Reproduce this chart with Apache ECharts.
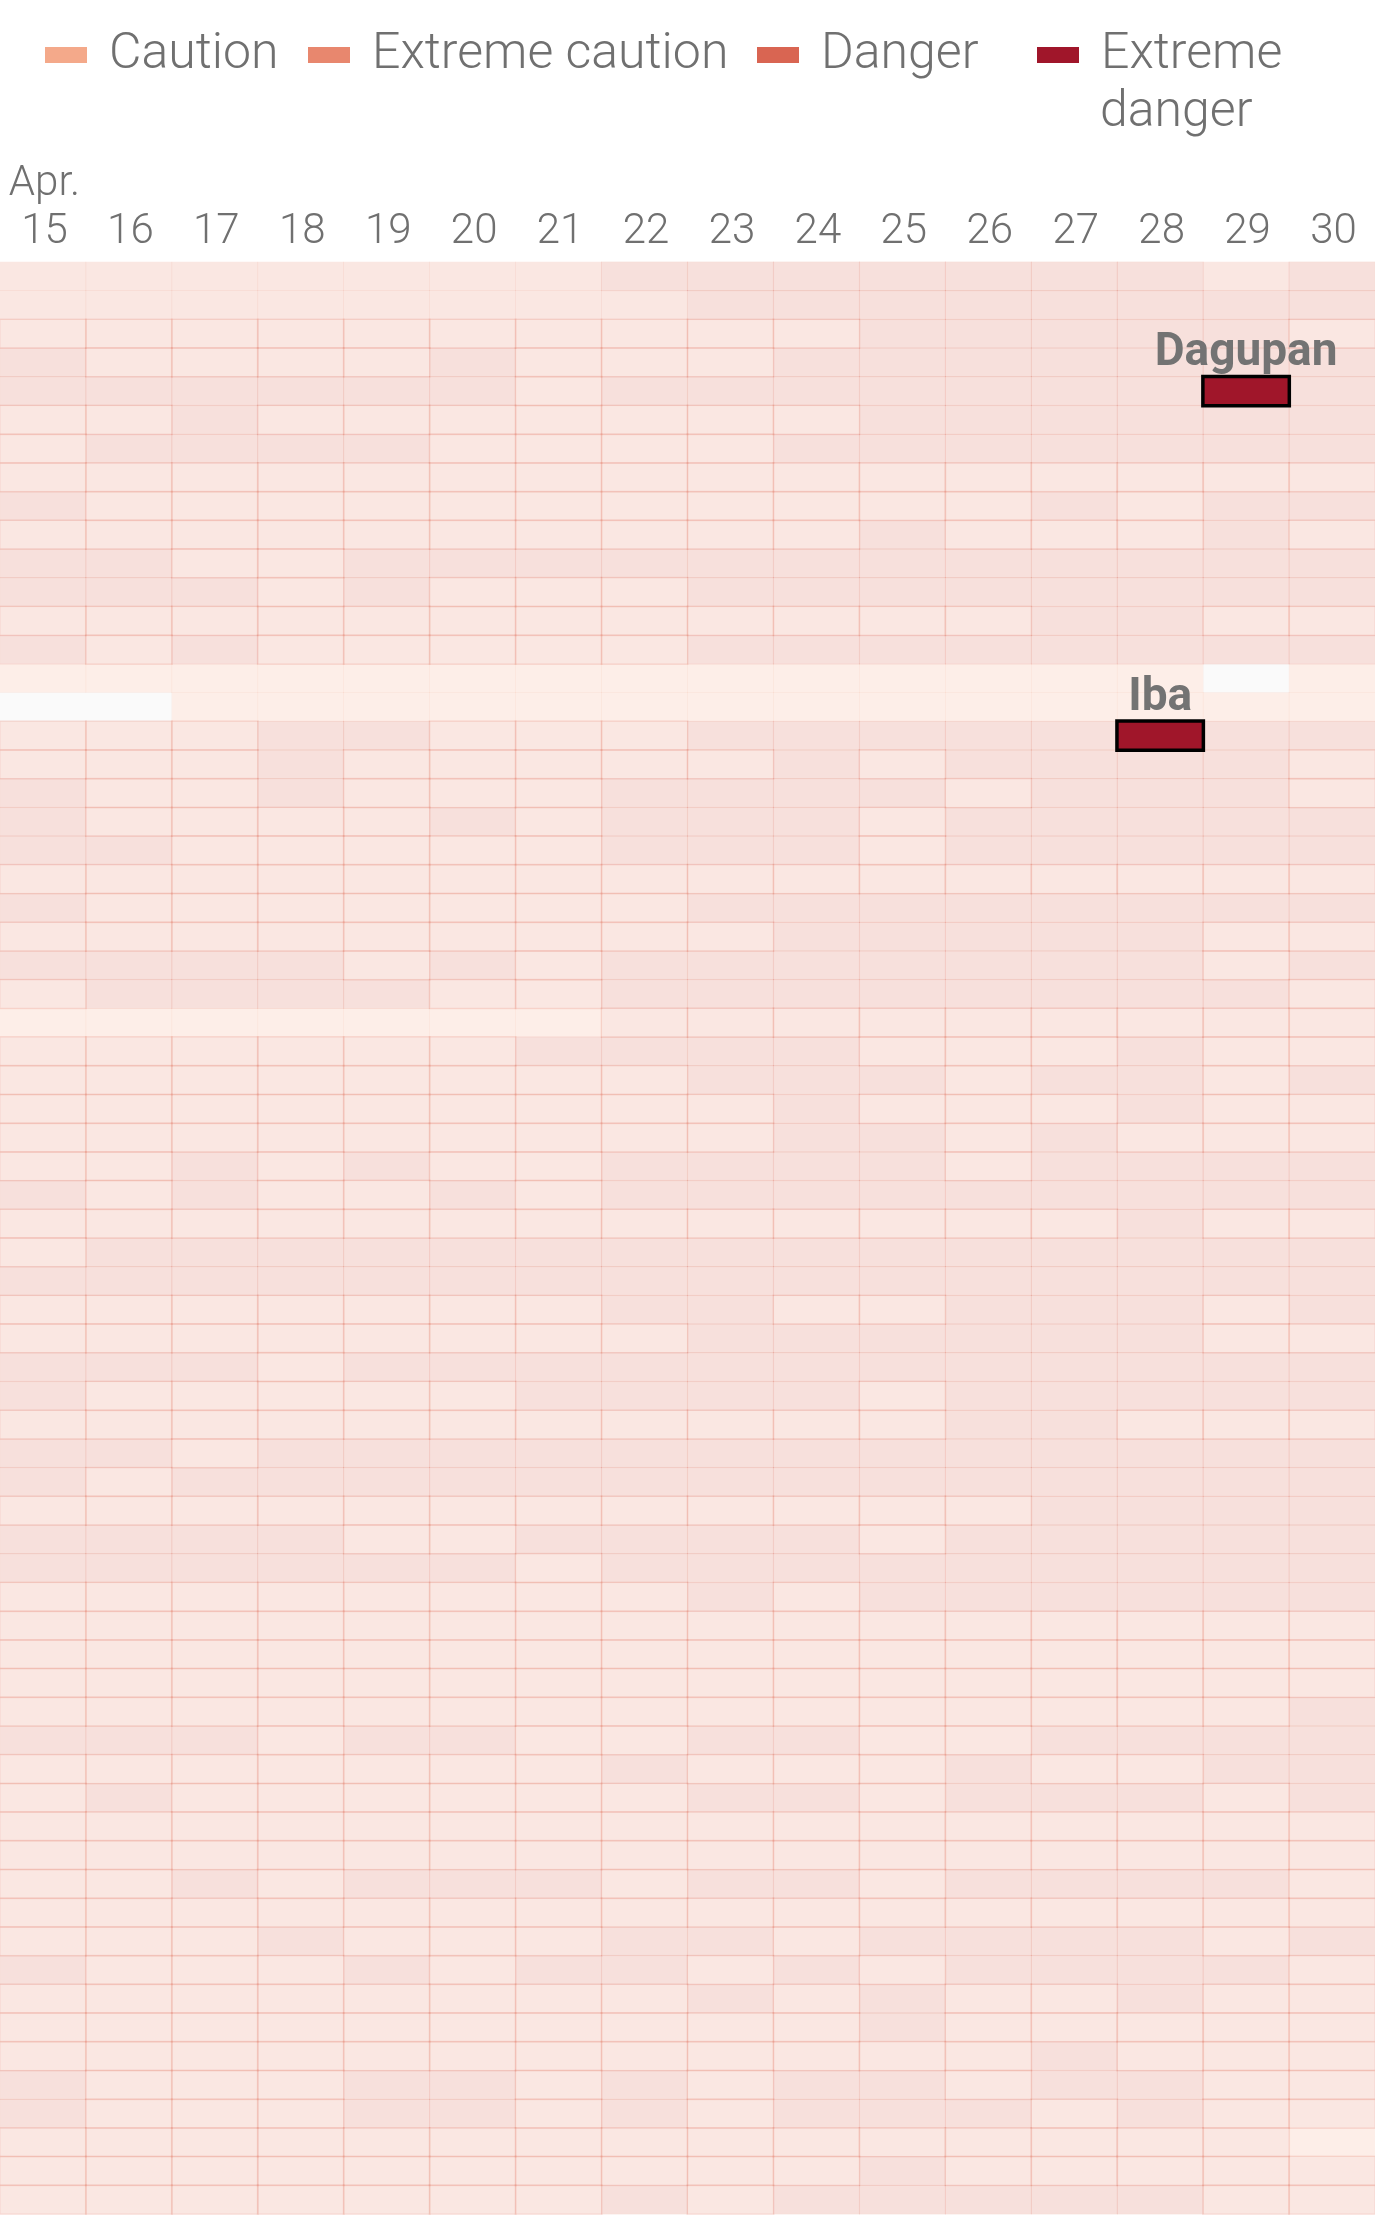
<!DOCTYPE html>
<html>
<head>
<meta charset="utf-8">
<script src="https://cdn.jsdelivr.net/npm/echarts@6/dist/echarts.min.js"></script>
<style>
html,body{margin:0;padding:0;background:#ffffff;}
#chart{width:1375px;height:2217px;}
</style>
</head>
<body>
<div id="chart"></div>
<script>
// ---- data ----
const monthLabel = 'Apr.';
const dates = ['15','16','17','18','19','20','21','22','23','24','25','26','27','28','29','30'];
const categories = ['Caution', 'Extreme caution', 'Danger', 'Extreme danger'];
const categoryColors = ['#f4a98a', '#e8876e', '#d96552', '#a0162a'];
// One string per station row, one letter per day:
// L = Caution, M = Extreme caution, D = Danger, X = Extreme danger, W = no data
const rows = [
  'MMMMMMMDDDDDDDMD',
  'MMMMMMMMDDDDDDDD',
  'MMMMMMMMMMDDDDDM',
  'DMMMMDMMMDDDDDDD',
  'DDDDDDMDDDDDDDXD',
  'MMDMMMMMMMDDDDDD',
  'MDDDDMMMMDDDDDDD',
  'MMMMMMMMMMMMMMMM',
  'DMMMMMMMMMMMDMDD',
  'MMMMMMMMMMDMMMDM',
  'DDMMDDDDDDDDDDDD',
  'DDDMDMMMDDDDDDDD',
  'MMMMMMMMMMMMDDMM',
  'DMDMMMMMDDDDDDDD',
  'LLLLLLLLLLLLLLWL',
  'WWLLLLLLLLLLLLLL',
  'MMMDDMMMDDDDDXDD',
  'MMMDMMMMMDMDDDDM',
  'DMMDMMMDDDDMDDDM',
  'DMMMMDMDDDMDDDDD',
  'DDMMMMMDDDMDDDDD',
  'MMMMMMMMMMMMMMMM',
  'DMMMMMMMDDDDDDDD',
  'MMMMMMMMMDDDDDMM',
  'DDDDMDMDDDDDDDMD',
  'MDDDDMMDDDDDDDDM',
  'LLLLLLLMMMMMMMMM',
  'MMMMMMDDDDMMMDMM',
  'MMMMMMMMDDDMDDMD',
  'MMMMMMMMMDMMMDMM',
  'MMMMMMMMMDDMDMMM',
  'MMDMDMMDDDDMDDDD',
  'DMDMMDMDDDDDDDDD',
  'MMMMMMMMMMMMMDMM',
  'MDDDDDDDDDDDDDDD',
  'DDDDDDDDDDDDDDDD',
  'MMMMMMMDDMMDDDMD',
  'MMMMMMMMDDDDDDMM',
  'DDDMDDDDDDDDDDDD',
  'DMMMMMDDDDMDDDDD',
  'MMMMMMMMMMMDDMMM',
  'DDMDDDDDDDDDDDDD',
  'DMDDDDDDDDDDDDDD',
  'MMMMMMMMMMMMDDDD',
  'DDDDMMDDDDMDDDDD',
  'DDDDDDMDDDDDDDDD',
  'MMMMMMMMDMDDDDDD',
  'MMMMMMMMMMMMMMMM',
  'MMMMMMMMMMMMMMMM',
  'MMMMMMMMMMMMMMMM',
  'MMMMMMMMMMMMMMMD',
  'DDDMDDMMDDMMDDDD',
  'MMMMMMMDMMMDMMDD',
  'MDMMMMMMDDMDDDMD',
  'MMMMMMMMMMMMMMMM',
  'MMMMMMMMMMMMMMMM',
  'MMDMDDDMDDMDDDDM',
  'MMMMMMMMMMMMMMMM',
  'MMMDMMMDDMDDDDMD',
  'DMMMDMDDMDMDDDDM',
  'MMMMMMMMDMDMMDMM',
  'MMMMMMMMMMDMMMMM',
  'MMMMMMMMMMMMDMMM',
  'DMMMDDMDMDDMDDMM',
  'DMMMDDMDMDDDMDMM',
  'MMMMMMMMMMMMMMML',
  'MMMMMMMMMMDMMMMM',
  'MMMMMMMDMDDDDDMM'
];
const stationRowNames = { 4: 'Dagupan', 16: 'Iba' };

// ---- build series data ----
const codeIndex = { L: 0, M: 1, D: 2, X: 3 };
const catData = [[], [], [], []];
const noData = [];
rows.forEach(function (r, y) {
  for (let x = 0; x < r.length; x++) {
    const c = r[x];
    if (c === 'W') { noData.push([x, y, -1]); continue; }
    const k = codeIndex[c];
    const item = { value: [x, y, k] };
    if (k === 1 && y < 2) item.itemStyle = { borderWidth: 0 };
    catData[k].push(item);
  }
});

const textGrey = '#707070';
const cellStyles = [
  { color: 'rgba(244,169,138,0.2)', borderWidth: 0 },
  { color: 'rgba(232,135,110,0.2)', borderColor: 'rgba(225,115,95,0.15)', borderWidth: 1.5 },
  { color: 'rgba(217,101,82,0.2)', borderColor: 'rgba(217,101,82,0.04)', borderWidth: 1 },
  { color: categoryColors[3], borderColor: '#000000', borderWidth: 3.5 }
];

const series = [{
  type: 'heatmap', name: 'No data', data: noData,
  itemStyle: { color: '#fafafa', borderWidth: 0 },
  emphasis: { disabled: true }, silent: true, progressive: 0
}];
categories.forEach(function (name, i) {
  const s = {
    type: 'heatmap', name: name, data: catData[i],
    itemStyle: cellStyles[i],
    emphasis: { disabled: true }, silent: true, progressive: 0
  };
  if (i === 3) {
    s.z = 5;
    s.label = {
      show: true, position: 'top', distance: -2,
      formatter: function (p) { return stationRowNames[p.value[1]] || ''; },
      fontFamily: 'Roboto', fontWeight: 'bold', fontSize: 46, lineHeight: 46,
      color: '#737373'
    };
  }
  series.push(s);
});

const legendLeft = [45, 308, 757, 1037];
const legends = categories.map(function (name, i) {
  return {
    show: true, selectedMode: false, left: legendLeft[i], top: 26, padding: 0,
    orient: 'horizontal', icon: 'rect', itemWidth: 42, itemHeight: 16,
    data: [{ name: name, itemStyle: { color: categoryColors[i], borderWidth: 0, opacity: 1 } }],
    formatter: function (n) { return n === 'Extreme danger' ? 'Extreme' : n; },
    textStyle: {
      fontFamily: 'Roboto', fontWeight: 300, fontSize: 50, lineHeight: 58,
      color: textGrey, padding: [0, 0, 0, 17]
    }
  };
});

const chart = echarts.init(document.getElementById('chart'), null, { renderer: 'canvas' });
chart.setOption({
  animation: false,
  backgroundColor: '#ffffff',
  legend: legends,
  graphic: [{
    type: 'text', left: 1100, top: 84, silent: true,
    style: { text: 'danger', font: '300 50px Roboto', lineHeight: 58, fill: textGrey }
  }],
  grid: { left: 0, right: 0, top: 262, bottom: 3, containLabel: false },
  xAxis: {
    type: 'category', data: dates, position: 'top',
    axisLine: { show: false }, axisTick: { show: false }, splitLine: { show: false },
    axisLabel: {
      interval: 0, margin: 6, fontFamily: 'Roboto', fontWeight: 300, fontSize: 42,
      lineHeight: 48, color: textGrey, padding: [0, 0, 0, 3],
      formatter: function (v, i) { return i === 0 ? monthLabel + '\n' + v : v; }
    }
  },
  yAxis: {
    type: 'category', data: rows.map(function (_, i) { return String(i); }),
    inverse: true, show: false
  },
  tooltip: { show: false },
  series: series
});
</script>
</body>
</html>
